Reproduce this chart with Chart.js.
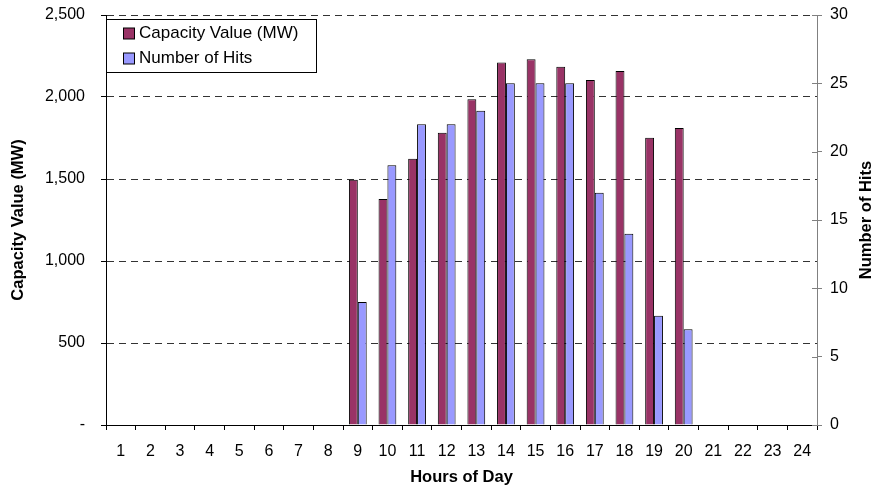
<!DOCTYPE html>
<html lang="en">
<head>
    <meta charset="UTF-8">
    <title>Capacity Value and Number of Hits by Hour</title>
    <script src="https://cdn.jsdelivr.net/npm/chart.js"></script>
    <style>
        body {
            margin: 0;
            background: #fff;
        }
        #wrap {
            width: 877px;
            height: 487px;
        }
    </style>
</head>
<body>
    <div id="wrap"><canvas id="hoursChart" width="877" height="487"></canvas></div>

    <script>
        // data
        const hours = ['1', '2', '3', '4', '5', '6', '7', '8', '9', '10', '11', '12',
                       '13', '14', '15', '16', '17', '18', '19', '20', '21', '22', '23', '24'];
        const capacityMW = [null, null, null, null, null, null, null, null,
                            1495, 1378, 1624, 1782, 1986, 2211, 2230, 2185, 2104, 2159, 1752, 1811,
                            null, null, null, null];
        const numHits = [null, null, null, null, null, null, null, null,
                         9, 19, 22, 22, 23, 25, 25, 25, 17, 14, 8, 7,
                         null, null, null, null];
        const leftTicks = [0, 500, 1000, 1500, 2000, 2500];
        const rightTicks = [0, 5, 10, 15, 20, 25, 30];

        const FONT = '"Liberation Sans", Arial, sans-serif';

        const fmt = (v) => v === 0 ? '-' : String(v).replace(/\B(?=(\d{3})+(?!\d))/g, ',');

        // fixed axis box sizes so the plot area sits where it does in the picture
        const fixWidth = (w) => (s) => {
            s.width = w;
            s.paddingTop = 0;
            s.paddingBottom = 0;
        };

        // titles, boxed legend and the inner half of the right axis ticks
        const extras = {
            id: 'extras',
            afterDraw(chart) {
                const ctx = chart.ctx;
                const area = chart.chartArea;
                const yR = chart.scales.yHits;
                ctx.save();

                // right axis ticks cross the axis line
                ctx.strokeStyle = '#808080';
                ctx.lineWidth = 1;
                rightTicks.forEach(t => {
                    const y = Math.round(yR.getPixelForValue(t)) + 0.5;
                    ctx.beginPath();
                    ctx.moveTo(area.right - 5, y);
                    ctx.lineTo(area.right, y);
                    ctx.stroke();
                });

                // axis titles
                ctx.fillStyle = '#000';
                ctx.font = 'bold 16.5px ' + FONT;
                ctx.textAlign = 'center';
                ctx.textBaseline = 'middle';
                ctx.fillText('Hours of Day', (area.left + area.right) / 2, 477);

                ctx.save();
                ctx.translate(18, (area.top + area.bottom) / 2);
                ctx.rotate(-Math.PI / 2);
                ctx.fillText('Capacity Value (MW)', 0, 0);
                ctx.restore();

                ctx.save();
                ctx.translate(866, (area.top + area.bottom) / 2);
                ctx.rotate(-Math.PI / 2);
                ctx.fillText('Number of Hits', 0, 0);
                ctx.restore();

                // legend box
                ctx.fillStyle = '#fff';
                ctx.fillRect(106.5, 19.5, 210, 53);
                ctx.strokeStyle = '#000';
                ctx.strokeRect(106.5, 19.5, 210, 53);
                ctx.font = '17px ' + FONT;
                ctx.textAlign = 'left';
                chart.data.datasets.forEach((ds, i) => {
                    const cy = 33.5 + i * 25;
                    ctx.fillStyle = ds.backgroundColor;
                    ctx.fillRect(123.5, cy - 5.5, 11, 11);
                    ctx.strokeStyle = '#000';
                    ctx.strokeRect(123.5, cy - 5.5, 11, 11);
                    ctx.fillStyle = '#000';
                    ctx.fillText(ds.label, 139, cy);
                });
                ctx.restore();
            }
        };

        const ctx = document.getElementById('hoursChart').getContext('2d');
        const hoursChart = new Chart(ctx, {
            type: 'bar',
            data: {
                labels: hours,
                datasets: [{
                    label: 'Capacity Value (MW)',
                    data: capacityMW,
                    yAxisID: 'yCap',
                    backgroundColor: '#993366',
                    borderColor: '#000',
                    borderWidth: 1
                }, {
                    label: 'Number of Hits',
                    data: numHits,
                    yAxisID: 'yHits',
                    backgroundColor: '#9999FF',
                    borderColor: '#000',
                    borderWidth: 1
                }]
            },
            options: {
                responsive: false,
                animation: false,
                devicePixelRatio: 1,
                categoryPercentage: 0.6,
                barPercentage: 1.0,
                layout: {
                    padding: { top: 15, left: 0, right: 0, bottom: 0 }
                },
                plugins: {
                    legend: { display: false },
                    tooltip: { enabled: false }
                },
                scales: {
                    x: {
                        grid: {
                            offset: true,
                            drawOnChartArea: false,
                            tickLength: 5,
                            tickColor: '#000'
                        },
                        border: { color: '#000', width: 1 },
                        ticks: {
                            color: '#000',
                            font: { family: FONT, size: 16 },
                            padding: 12,
                            maxRotation: 0,
                            autoSkip: false
                        },
                        afterFit: (s) => { s.height = 62; }
                    },
                    yCap: {
                        position: 'left',
                        min: 0,
                        max: 2500,
                        afterBuildTicks: (s) => { s.ticks = leftTicks.map(v => ({ value: v })); },
                        grid: {
                            color: (c) => c.tick && c.tick.value === 0 ? 'rgba(0,0,0,0)' : '#333',
                            lineWidth: 1,
                            tickLength: 5,
                            tickColor: '#000'
                        },
                        border: { color: '#000', width: 1, dash: [7, 5] },
                        ticks: {
                            color: '#000',
                            font: { family: FONT, size: 16 },
                            padding: 16,
                            callback: (v) => fmt(v)
                        },
                        afterFit: fixWidth(106)
                    },
                    yHits: {
                        position: 'right',
                        min: 0,
                        max: 30,
                        afterBuildTicks: (s) => { s.ticks = rightTicks.map(v => ({ value: v })); },
                        grid: {
                            drawOnChartArea: false,
                            tickLength: 5,
                            tickColor: '#808080'
                        },
                        border: { color: '#808080', width: 1 },
                        ticks: {
                            color: '#000',
                            font: { family: FONT, size: 16 },
                            padding: 8
                        },
                        afterFit: fixWidth(60)
                    }
                }
            },
            plugins: [extras]
        });
    </script>
</body>
</html>
